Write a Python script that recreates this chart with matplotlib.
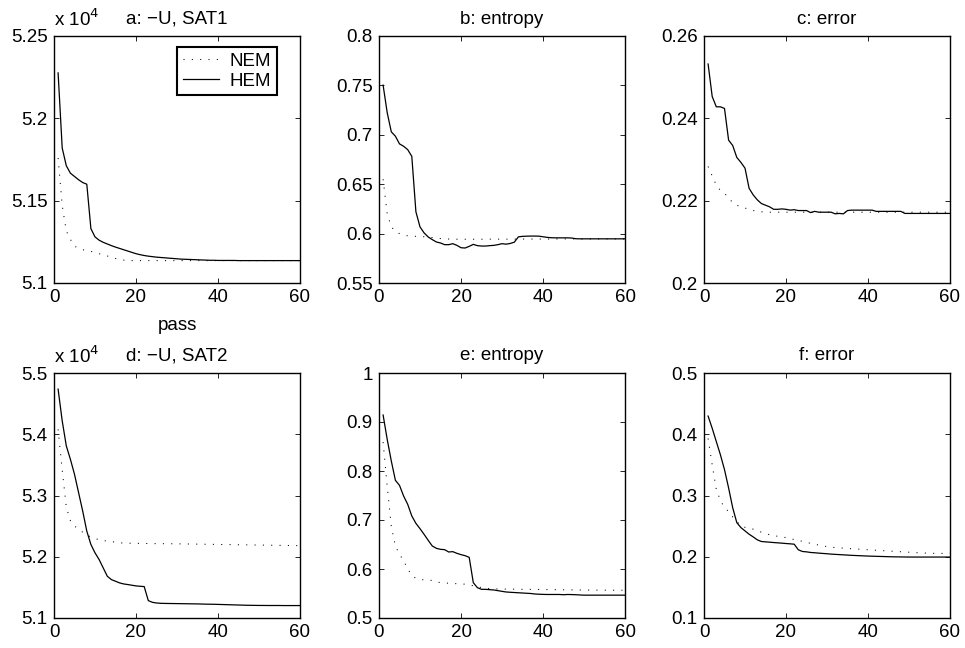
import numpy as np
import matplotlib
matplotlib.use("Agg")
import matplotlib.pyplot as plt
from matplotlib.ticker import FuncFormatter

plt.rcParams['font.family'] = ['Liberation Sans', 'DejaVu Sans']

passes = np.arange(1, 61)

# Panel a: -U, SAT1 (units of 1e4)
hem_a = [5.2276, 5.182, 5.1712, 5.1667, 5.1647, 5.1627, 5.161, 5.160, 5.133, 5.128,
         5.126, 5.1247, 5.1237, 5.1227, 5.1218, 5.121, 5.1202, 5.1194, 5.1186, 5.1178,
         5.1172, 5.1167, 5.1163, 5.116, 5.1157, 5.1155, 5.1153, 5.1151, 5.1149, 5.1147,
         5.1145, 5.1144, 5.1143, 5.1142, 5.1141, 5.114, 5.1139, 5.1138, 5.1138, 5.1137,
         5.1137, 5.1137, 5.1137, 5.1137, 5.1136, 5.1136, 5.1136, 5.1136, 5.1136, 5.1136,
         5.1136, 5.1136, 5.1136, 5.1136, 5.1136, 5.1136, 5.1136, 5.1136, 5.1136, 5.1136]
nem_a = [5.1759, 5.147, 5.1316, 5.1265, 5.1224, 5.121, 5.1202, 5.1197, 5.1192, 5.1185,
         5.1178, 5.1171, 5.1164, 5.1156, 5.1149, 5.1143, 5.1139, 5.1137, 5.1136, 5.1136,
         5.1136, 5.1136, 5.1136, 5.1136, 5.1136, 5.1136, 5.1136, 5.1136, 5.1136, 5.1136,
         5.1136, 5.1136, 5.1136, 5.1136, 5.1136, 5.1136, 5.1136, 5.1136, 5.1136, 5.1136,
         5.1136, 5.1136, 5.1136, 5.1136, 5.1136, 5.1136, 5.1136, 5.1136, 5.1136, 5.1136,
         5.1136, 5.1136, 5.1136, 5.1136, 5.1136, 5.1136, 5.1136, 5.1136, 5.1136, 5.1136]

# Panel b: entropy
hem_b = [0.7503, 0.7224, 0.703, 0.6986, 0.6908, 0.6884, 0.685, 0.6782, 0.6221, 0.6068,
         0.6007, 0.5966, 0.5939, 0.5915, 0.5905, 0.5888, 0.5888, 0.5898, 0.5881, 0.5857,
         0.5854, 0.5871, 0.5891, 0.5878, 0.5874, 0.5874, 0.5878, 0.5881, 0.5888, 0.5898,
         0.5893, 0.590, 0.5913, 0.5967, 0.5972, 0.5974, 0.5975, 0.5975, 0.5974, 0.5968,
         0.5962, 0.5958, 0.5957, 0.5957, 0.5957, 0.5957, 0.5955, 0.5948, 0.5947, 0.5947,
         0.5947, 0.5947, 0.5947, 0.5947, 0.5947, 0.5947, 0.5947, 0.5947, 0.5947, 0.5947]
nem_b = [0.655, 0.620, 0.607, 0.602, 0.600, 0.5985, 0.5978, 0.5974, 0.5972, 0.597,
         0.5968, 0.5965, 0.596, 0.5955, 0.595, 0.5947, 0.5945, 0.5944, 0.5943, 0.5943,
         0.5943, 0.5943, 0.5943, 0.5943, 0.5943, 0.5943, 0.5944, 0.5944, 0.5944, 0.5944,
         0.5944, 0.5944, 0.5944, 0.5945, 0.5945, 0.5945, 0.5945, 0.5945, 0.5945, 0.5945,
         0.5945, 0.5946, 0.5946, 0.5946, 0.5946, 0.5946, 0.5946, 0.5946, 0.5946, 0.5946,
         0.5946, 0.5946, 0.5946, 0.5946, 0.5946, 0.5946, 0.5946, 0.5946, 0.5946, 0.5946]

# Panel c: error
hem_c = [0.2532, 0.2453, 0.2428, 0.2428, 0.2424, 0.2347, 0.2334, 0.2305, 0.2293, 0.2279,
         0.223, 0.2214, 0.2202, 0.2193, 0.2189, 0.2185, 0.2179, 0.2179, 0.218, 0.2179,
         0.2177, 0.2178, 0.2176, 0.2176, 0.2176, 0.2171, 0.2174, 0.2172, 0.2172, 0.2172,
         0.2172, 0.2168, 0.2169, 0.2168, 0.2176, 0.2177, 0.2177, 0.2177, 0.2177, 0.2177,
         0.2177, 0.2174, 0.2174, 0.2174, 0.2174, 0.2174, 0.2174, 0.2174, 0.2169, 0.2169,
         0.2169, 0.2169, 0.2169, 0.2169, 0.2169, 0.2169, 0.2169, 0.2169, 0.2169, 0.2169]
nem_c = [0.2283, 0.226, 0.2238, 0.2225, 0.2218, 0.2207, 0.2195, 0.2189, 0.2185, 0.2182,
         0.2179, 0.2176, 0.2174, 0.2173, 0.2172, 0.2172, 0.2172, 0.2172, 0.2172, 0.2172,
         0.2172, 0.2172, 0.2172, 0.2172, 0.2172, 0.2172, 0.2172, 0.2172, 0.2172, 0.2172,
         0.2172, 0.2172, 0.2172, 0.2172, 0.2172, 0.2172, 0.2172, 0.2172, 0.2172, 0.2172,
         0.2172, 0.2172, 0.2172, 0.2172, 0.2172, 0.2172, 0.2172, 0.2172, 0.2172, 0.2172,
         0.2172, 0.2172, 0.2172, 0.2172, 0.2172, 0.2172, 0.2172, 0.2172, 0.2172, 0.2172]

# Panel d: -U, SAT2 (units of 1e4)
hem_d = [5.4737, 5.4219, 5.381, 5.3591, 5.3346, 5.3046, 5.2746, 5.2418, 5.22, 5.2064,
         5.1955, 5.1818, 5.1682, 5.1627, 5.16, 5.1573, 5.1556, 5.1546, 5.1535, 5.1524,
         5.1518, 5.1513, 5.1284, 5.1256, 5.1245, 5.124, 5.1238, 5.1237, 5.1236, 5.1235,
         5.1234, 5.1233, 5.1232, 5.1231, 5.123, 5.1228, 5.1226, 5.1225, 5.1224, 5.1222,
         5.122, 5.1218, 5.1216, 5.1214, 5.1212, 5.121, 5.1208, 5.1207, 5.1206, 5.1205,
         5.1205, 5.1204, 5.1204, 5.1204, 5.1204, 5.1203, 5.1203, 5.1203, 5.1203, 5.1203]
nem_d = [5.408, 5.342, 5.281, 5.259, 5.25, 5.2455, 5.24, 5.236, 5.232, 5.23,
         5.2275, 5.2265, 5.2255, 5.225, 5.2235, 5.2227, 5.2224, 5.2222, 5.222, 5.2219,
         5.2218, 5.2217, 5.2216, 5.2215, 5.2214, 5.2214, 5.2213, 5.2212, 5.2212, 5.2211,
         5.221, 5.2209, 5.2208, 5.2207, 5.2206, 5.2205, 5.2204, 5.2203, 5.2202, 5.2201,
         5.22, 5.2199, 5.2198, 5.2197, 5.2196, 5.2195, 5.2194, 5.2193, 5.2192, 5.2191,
         5.219, 5.2189, 5.2188, 5.2187, 5.2186, 5.2185, 5.2184, 5.2183, 5.2182, 5.2181]

# Panel e: entropy
hem_e = [0.9143, 0.8646, 0.8204, 0.781, 0.7707, 0.749, 0.732, 0.7082, 0.6932, 0.6823,
         0.6707, 0.6585, 0.6469, 0.6422, 0.6401, 0.6395, 0.6347, 0.6354, 0.632, 0.6293,
         0.6272, 0.6238, 0.5721, 0.5619, 0.5585, 0.5585, 0.5578, 0.5572, 0.5558, 0.5544,
         0.5531, 0.5525, 0.552, 0.5515, 0.551, 0.5505, 0.55, 0.549, 0.5485, 0.5482,
         0.548, 0.548, 0.548, 0.548, 0.5475, 0.548, 0.5478, 0.5475, 0.547, 0.5466,
         0.5466, 0.5466, 0.5466, 0.5466, 0.5466, 0.5466, 0.5466, 0.5466, 0.5466, 0.5466]
nem_e = [0.859, 0.769, 0.687, 0.647, 0.63, 0.617, 0.6, 0.587, 0.581, 0.5785,
         0.578, 0.5775, 0.5765, 0.574, 0.572, 0.5715, 0.571, 0.5705, 0.57, 0.5695,
         0.569, 0.567, 0.566, 0.564, 0.562, 0.561, 0.56, 0.5595, 0.5593, 0.5591,
         0.559, 0.5589, 0.5588, 0.5587, 0.5586, 0.5585, 0.5584, 0.5583, 0.5582, 0.5581,
         0.558, 0.5579, 0.5578, 0.5577, 0.5576, 0.5575, 0.5574, 0.5573, 0.5572, 0.5571,
         0.557, 0.5569, 0.5569, 0.5568, 0.5568, 0.5567, 0.5567, 0.5567, 0.5567, 0.5567]

# Panel f: error
hem_f = [0.4297, 0.4097, 0.3881, 0.3665, 0.3422, 0.3124, 0.28, 0.2557, 0.2476, 0.2422,
         0.2368, 0.2324, 0.2276, 0.2249, 0.2243, 0.2238, 0.2232, 0.2227, 0.2222, 0.2216,
         0.2211, 0.2205, 0.2114, 0.2086, 0.208, 0.207, 0.2065, 0.2059, 0.2054, 0.2049,
         0.2043, 0.2039, 0.2035, 0.2031, 0.2027, 0.2023, 0.202, 0.2017, 0.2014, 0.2011,
         0.2009, 0.2007, 0.2005, 0.2003, 0.2001, 0.1999, 0.1998, 0.1997, 0.1996, 0.1995,
         0.1995, 0.1995, 0.1995, 0.1995, 0.1995, 0.1995, 0.1995, 0.1995, 0.1995, 0.1995]
nem_f = [0.393, 0.35, 0.31, 0.292, 0.28, 0.274, 0.265, 0.258, 0.25, 0.248,
         0.2476, 0.245, 0.2432, 0.24, 0.2378, 0.236, 0.2341, 0.2335, 0.233, 0.231,
         0.2297, 0.228, 0.227, 0.225, 0.2232, 0.222, 0.2205, 0.219, 0.2178, 0.2165,
         0.2155, 0.215, 0.2145, 0.214, 0.2135, 0.2131, 0.2127, 0.2123, 0.2118, 0.2114,
         0.211, 0.2106, 0.2102, 0.2098, 0.2094, 0.209, 0.2086, 0.2082, 0.2078, 0.2074,
         0.207, 0.2066, 0.2063, 0.206, 0.2058, 0.2056, 0.2055, 0.2055, 0.2055, 0.2055]

titles = ['a: \u2212U, SAT1', 'b: entropy', 'c: error',
          'd: \u2212U, SAT2', 'e: entropy', 'f: error']
ylims = [(5.1, 5.25), (0.55, 0.8), (0.2, 0.26), (5.1, 5.5), (0.5, 1.0), (0.1, 0.5)]
yticks = [[5.1, 5.15, 5.2, 5.25], [0.55, 0.6, 0.65, 0.7, 0.75, 0.8],
          [0.2, 0.22, 0.24, 0.26], [5.1, 5.2, 5.3, 5.4, 5.5],
          [0.5, 0.6, 0.7, 0.8, 0.9, 1.0], [0.1, 0.2, 0.3, 0.4, 0.5]]
xticks = [0, 20, 40, 60]
nem_all = [nem_a, nem_b, nem_c, nem_d, nem_e, nem_f]
hem_all = [hem_a, hem_b, hem_c, hem_d, hem_e, hem_f]

FS = 13.5
W, H = 965, 648
fig = plt.figure(figsize=(W / 100, H / 100), dpi=100)
lefts = [54, 379, 704]
rows = [(36, 283), (373, 618)]
fmt = FuncFormatter(lambda v, p: '%g' % round(v, 4))

axes = []
for i in range(6):
    r, c = divmod(i, 3)
    top, bot = rows[r]
    ax = fig.add_axes([lefts[c] / W, 1 - bot / H, 246 / W, (bot - top) / H])
    axes.append(ax)
    ax.plot(passes, nem_all[i], color='black', lw=0.75, linestyle=(0, (1, 7)), label='NEM')
    ax.plot(passes, hem_all[i], color='black', lw=0.9, label='HEM')
    ax.set_xlim(0, 60)
    ax.set_ylim(*ylims[i])
    ax.set_xticks(xticks)
    ax.set_yticks(yticks[i])
    ax.yaxis.set_major_formatter(fmt)
    ax.tick_params(direction='in', length=3.5, width=0.6, top=True, right=True,
                   labelsize=FS, pad=4.5)
    for s in ax.spines.values():
        s.set_linewidth(1.0)
    ax.set_title(titles[i], fontsize=FS, pad=9)
    if c == 0:
        ax.text(0.0, 1.026, r'x 10$^{4}$', transform=ax.transAxes, fontsize=FS,
                ha='left', va='bottom')

axes[0].set_xlabel('pass', fontsize=FS, labelpad=8)
leg = axes[0].legend(loc='upper right', bbox_to_anchor=(0.907, 0.956), borderaxespad=0,
                     fontsize=FS, handlelength=1.9, handletextpad=0.6, fancybox=False,
                     framealpha=1, edgecolor='black', borderpad=0.3, labelspacing=0.15)
leg.get_frame().set_linewidth(1.5)

fig.savefig('out.png', dpi=100)
